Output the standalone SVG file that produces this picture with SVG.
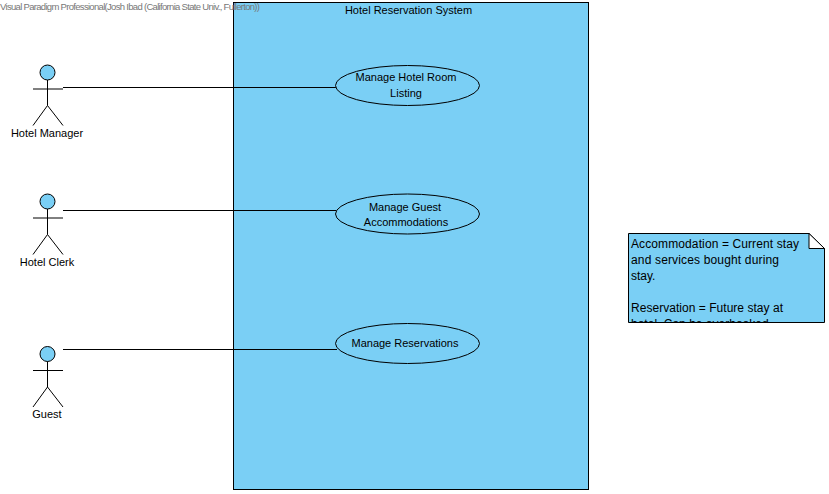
<svg xmlns="http://www.w3.org/2000/svg" width="829" height="494" viewBox="0 0 829 494">
<style>
text{font-family:"Liberation Sans",Arial,sans-serif;font-size:11px;fill:#000}
.s{fill:#7acff5;stroke:#000;stroke-width:1}
.l{fill:none;stroke:#000;stroke-width:1}
.m{text-anchor:middle}
.n{font-size:12px}
.w{font-size:9.5px;fill:#777}
</style>
<defs>
<clipPath id="nc"><rect x="628" y="233" width="197" height="89"/></clipPath>
<g id="stick">
<circle class="s" cx="47.5" cy="0" r="7.5"/>
<path class="l" d="M47.5 7.5V33M33 16.5H63M47.5 33L33 53M47.5 33L63 53"/>
</g>
</defs>
<g id="system"><rect class="s" x="233.5" y="2.5" width="355" height="487"/><text class="m" x="408.5" y="14">Hotel Reservation System</text></g>
<g id="connectors">
<path class="l" d="M63 87.500H336M63 210.500H336M63 349.500H337"/>
</g>
<g id="actor-manager"><use href="#stick" y="72.500"/><text class="m" x="47" y="137">Hotel Manager</text></g>
<g id="actor-clerk"><use href="#stick" y="201.500"/><text class="m" x="47" y="266">Hotel Clerk</text></g>
<g id="actor-guest"><use href="#stick" y="354"/><text class="m" x="47" y="418">Guest</text></g>
<g id="uc-room"><ellipse class="s" cx="407.500" cy="85.500" rx="72" ry="20"/><text class="m" x="406" y="81">Manage Hotel Room</text><text class="m" x="406" y="97">Listing</text></g>
<g id="uc-accom"><ellipse class="s" cx="407.500" cy="214" rx="72" ry="20"/><text class="m" x="405" y="211">Manage Guest</text><text class="m" x="406" y="226">Accommodations</text></g>
<g id="uc-res"><ellipse class="s" cx="407.500" cy="343.500" rx="72" ry="20"/><text class="m" x="405" y="347">Manage Reservations</text></g>
<g id="note">
<path class="s" d="M628.500 233.500H809L824.500 248.500V322.500H628.500Z"/>
<path d="M809 233.500L824.500 248.500H809Z" fill="#fff" stroke="#000"/>
<g clip-path="url(#nc)" class="n">
<text class="n" x="631" y="248" textLength="168">Accommodation = Current stay</text>
<text class="n" x="631" y="264" textLength="148">and services bought during</text>
<text class="n" x="631" y="280">stay.</text>
<text class="n" x="631" y="312" textLength="152">Reservation = Future stay at</text>
<text class="n" x="631" y="328" textLength="141">hotel. Can be overbooked.</text>
</g>
</g>
<text class="w" x="0" y="10" textLength="260" lengthAdjust="spacing">Visual Paradigm Professional(Josh Ibad (California State Univ., Fullerton))</text>
</svg>
